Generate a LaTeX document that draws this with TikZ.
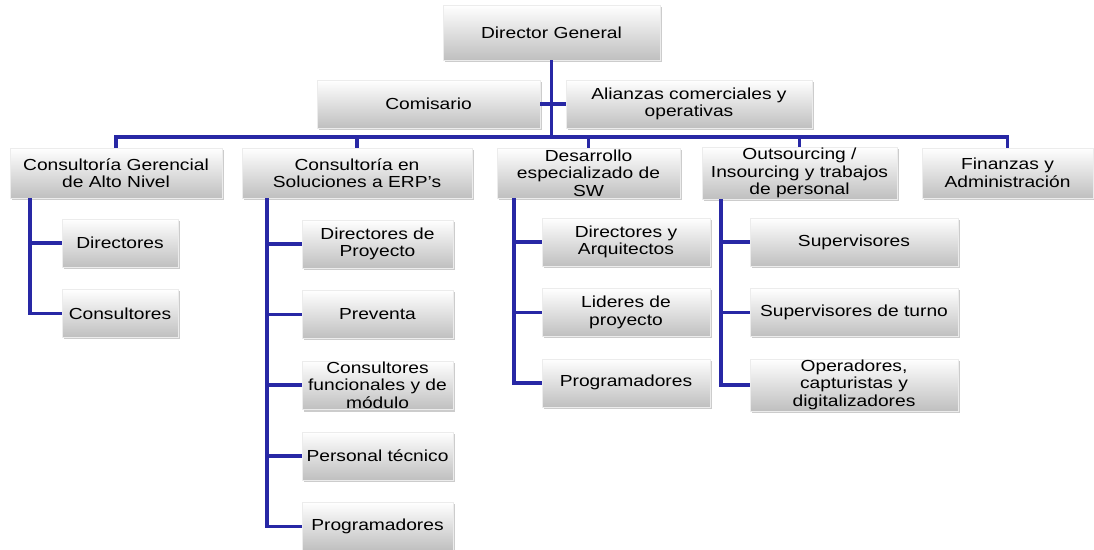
\documentclass[tikz,border=0pt]{standalone}
\usepackage{fontspec}
\setmainfont{Liberation Sans}[FakeStretch=1.2]
\usepackage{tikz}
\usetikzlibrary{positioning, shadows}
\definecolor{orgblue}{RGB}{40,40,165}

\begin{document}
\begin{tikzpicture}[
  x=1pt, y=-1pt,
  node distance=22pt,
  font=\fontsize{16}{17.5}\selectfont,
  unit/.style={rectangle, align=center, inner sep=1pt, top color=white, bottom color=gray!50, draw=gray!15, drop shadow={shadow xshift=2pt, shadow yshift=-2pt, opacity=0.4}},
  head/.style={unit, minimum height=50pt},
  sub/.style={unit, minimum height=48pt},
  link/.style={draw=orgblue, line width=3.5pt}
]
\useasboundingbox (0,0) rectangle (1094,549);

% top of the chart
\node[unit, minimum width=217pt, minimum height=55pt] (dg) at (551.5,32.5) {Director General};
\node[unit, minimum width=223pt, minimum height=48pt] (com) at (428.5,104) {Comisario};
\node[unit, minimum width=246pt, minimum height=48pt] (ali) at (689,104) {Alianzas comerciales y\\operativas};
\coordinate (bus) at (551.5,137);

% areas
\node[head, minimum width=212pt] (cgan) at (116,173) {Consultoría Gerencial\\de Alto Nivel};
\node[head, minimum width=230pt] (cse) at (357,173) {Consultoría en\\Soluciones a ERP’s};
\node[head, minimum width=183pt] (dsw) at (588.5,173) {Desarrollo\\especializado de\\SW};
\node[head, minimum width=195pt] (out) at (799.5,173) {Outsourcing /\\Insourcing y trabajos\\de personal};
\node[head, minimum width=171pt] (fin) at (1007.5,173) {Finanzas y\\Administración};

% staff of each area
\node[sub, minimum width=116pt] (cg1) at (120,243) {Directores};
\node[sub, minimum width=116pt, below=of cg1] (cg2) {Consultores};

\node[sub, minimum width=151pt] (cs1) at (377.5,244) {Directores de\\Proyecto};
\node[sub, minimum width=151pt, below=of cs1] (cs2) {Preventa};
\node[sub, minimum width=151pt, below=of cs2] (cs3) {Consultores\\funcionales y de\\módulo};
\node[sub, minimum width=151pt, below=of cs3] (cs4) {Personal técnico};
\node[sub, minimum width=151pt, below=of cs4] (cs5) {Programadores};

\node[sub, minimum width=168pt] (ds1) at (626,242) {Directores y\\Arquitectos};
\node[sub, minimum width=168pt, below=of ds1] (ds2) {Lideres de\\proyecto};
\node[sub, minimum width=168pt, below=of ds2] (ds3) {Programadores};

\node[sub, minimum width=208pt] (os1) at (854,242) {Supervisores};
\node[sub, minimum width=208pt, below=of os1] (os2) {Supervisores de turno};
\node[sub, minimum width=208pt, below=of os2] (os3) {Operadores,\\capturistas y\\digitalizadores};

% connectors
\draw[link] (dg.south) -- (bus);
\draw[link] (com.east) -- (ali.west);
\foreach \n in {cgan, cse, dsw, out, fin}
  \draw[link] (bus) -| (\n.north);

\coordinate (cgspine) at ([xshift=20pt]cgan.south west);
\coordinate (csspine) at ([xshift=25pt]cse.south west);
\coordinate (dsspine) at ([xshift=17pt]dsw.south west);
\coordinate (osspine) at ([xshift=19pt]out.south west);
\foreach \c in {cg1, cg2}
  \draw[link] (cgspine) |- (\c.west);
\foreach \c in {cs1, cs2, cs3, cs4, cs5}
  \draw[link] (csspine) |- (\c.west);
\foreach \c in {ds1, ds2, ds3}
  \draw[link] (dsspine) |- (\c.west);
\foreach \c in {os1, os2, os3}
  \draw[link] (osspine) |- (\c.west);
\end{tikzpicture}
\end{document}
